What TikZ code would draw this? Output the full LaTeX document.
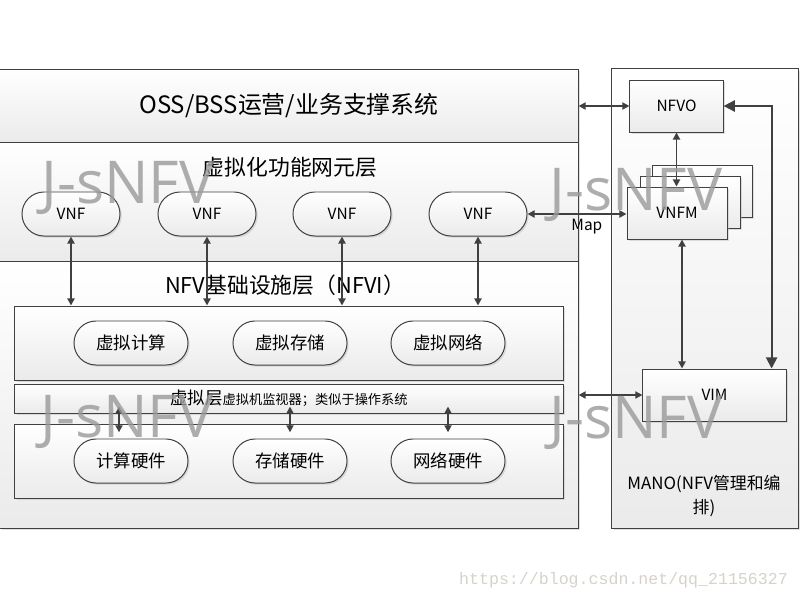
\documentclass[tikz,border=0pt]{standalone}
\usepackage{fontspec}
\setmainfont{Noto Sans CJK SC}
\newfontfamily\markfont{Open Sans}
\newfontfamily\urlfont{Liberation Mono}
\definecolor{urlgray}{RGB}{214,210,202}
\usetikzlibrary{arrows.meta,positioning,shapes.misc,shadows}

\begin{document}
\begin{tikzpicture}[x=0.025cm,y=-0.025cm,
  panel/.style={draw=black!75,line width=0.7pt,top color=white,bottom color=black!8,inner sep=0pt,
    drop shadow={shadow xshift=1.2pt,shadow yshift=-1.2pt,fill=black!30,opacity=.4}},
  layerbox/.style={panel,minimum width=13.7cm},
  pill/.style={panel,rounded rectangle,minimum height=1.1cm,font=\fontsize{12.4}{14}\selectfont},
  vnfpill/.style={pill,minimum width=2.45cm,font=\fontsize{11}{13}\selectfont},
  respill/.style={pill,minimum width=2.85cm},
  manobox/.style={panel,minimum height=1.3cm,font=\fontsize{11}{13}\selectfont},
  link/.style={draw=black!75,line width=1.3pt,{Triangle[length=5pt,width=5pt]}-{Triangle[length=5pt,width=5pt]}},
  biglink/.style={link,{Triangle[length=8pt,width=8pt]}-{Triangle[length=8pt,width=8pt]}},
  wmark/.style={font=\markfont\fontsize{42}{42}\selectfont,text=black!40,text opacity=.8,anchor=base,inner sep=0pt}]
\useasboundingbox (0,0) rectangle (800,600);

% NFV architecture layers
\node[panel,minimum width=14.45cm,minimum height=1.85cm,font=\fontsize{17}{20}\selectfont] (oss) at (289,106) {OSS/BSS运营/业务支撑系统};
\node[panel,minimum width=14.45cm,minimum height=2.975cm] (vnflayer) at (289,202.5) {};
\node[font=\fontsize{15.5}{18}\selectfont] (vnftitle) at (290,167) {虚拟化功能网元层};
\node[panel,minimum width=14.45cm,minimum height=6.65cm] (nfvi) at (289,395) {};
\node[font=\fontsize{15.5}{18}\selectfont] (nfvititle) at (285,285) {NFV基础设施层（NFVI）};

\foreach \i/\x in {1/71,2/207,3/342,4/478}
  \node[vnfpill] (vnf\i) at (\x,214) {VNF};

\node[layerbox,minimum height=1.85cm] (vres) at (289,343) {};
\node[layerbox,minimum height=0.725cm] (vlayer) at (289,398.5) {};
\node[layerbox,minimum height=1.85cm] (hw) at (289,461) {};

\node[respill] (vcomp) at (131,343) {虚拟计算};
\node[respill] (vstor) at (290,343) {虚拟存储};
\node[respill] (vnet) at (448,343) {虚拟网络};
\node[anchor=west,inner sep=0pt] (vltext) at (170,398)
  {{\fontsize{12.4}{14}\selectfont 虚拟层}{\fontsize{9.4}{11}\selectfont 虚拟机监视器；类似于操作系统}};
\node[respill] (hcomp) at (131,461) {计算硬件};
\node[respill] (hstor) at (290,461) {存储硬件};
\node[respill] (hnet) at (448,461) {网络硬件};

% MANO
\node[panel,minimum width=4.65cm,minimum height=11.475cm] (mano) at (705,298.5) {};
\node[manobox,minimum width=2.33cm] (nfvo) at (676.5,106) {NFVO};
\node[manobox,minimum width=2.5cm] (vnfmc) at (702,191.5) {};
\node[manobox,minimum width=2.5cm] (vnfmb) at (690,202.5) {};
\node[manobox,minimum width=2.5cm] (vnfm) at (677,213) {VNFM};
\node[manobox,minimum width=3.58cm] (vim) at (714.5,395) {VIM};
\node[align=center,font=\fontsize{12}{17}\selectfont] (manotext) at (704,496) {MANO(NFV管理和编\\排)};

% connectors
\draw[link] (oss.east |- nfvo) -- (nfvo.west);
\draw[link] (nfvo.south) -- (nfvo.south |- vnfm.north);
\draw[biglink] (nfvo.east) -| ([xshift=-0.375cm]vim.north east);
\draw[link] ([xshift=0.125cm]vnfm.south) -- ([xshift=0.125cm]vnfm.south |- vim.north);
\draw[link] (vnf4.east) -- node[below,pos=.6,font=\fontsize{11}{13}\selectfont] {Map} (vnf4.east -| vnfm.west);
\draw[link] (nfvi.east |- vim) -- (vim.west);
\foreach \i in {1,...,4}
  \draw[link] (vnf\i.south) -- (vnf\i.south |- vres.north);
\foreach \n/\s in {hcomp/-0.3cm,hstor/0cm,hnet/0cm}
  \draw[link] ([xshift=\s,yshift=-0.2cm]vlayer.center -| \n) -- ([xshift=\s,yshift=-0.22cm]hw.north -| \n);

% watermarks
\node[wmark] (wm1) at (128,203) {J-sNFV};
\node[wmark] (wm2) at (636,210) {J-sNFV};
\node[wmark] (wm3) at (127,437) {J-sNFV};
\node[wmark] (wm4) at (636,438) {J-sNFV};
\node[font=\urlfont\fontsize{11.8}{12}\selectfont,text=urlgray] (url) at (623.5,580) {https://blog.csdn.net/qq\_21156327};
\end{tikzpicture}
\end{document}
